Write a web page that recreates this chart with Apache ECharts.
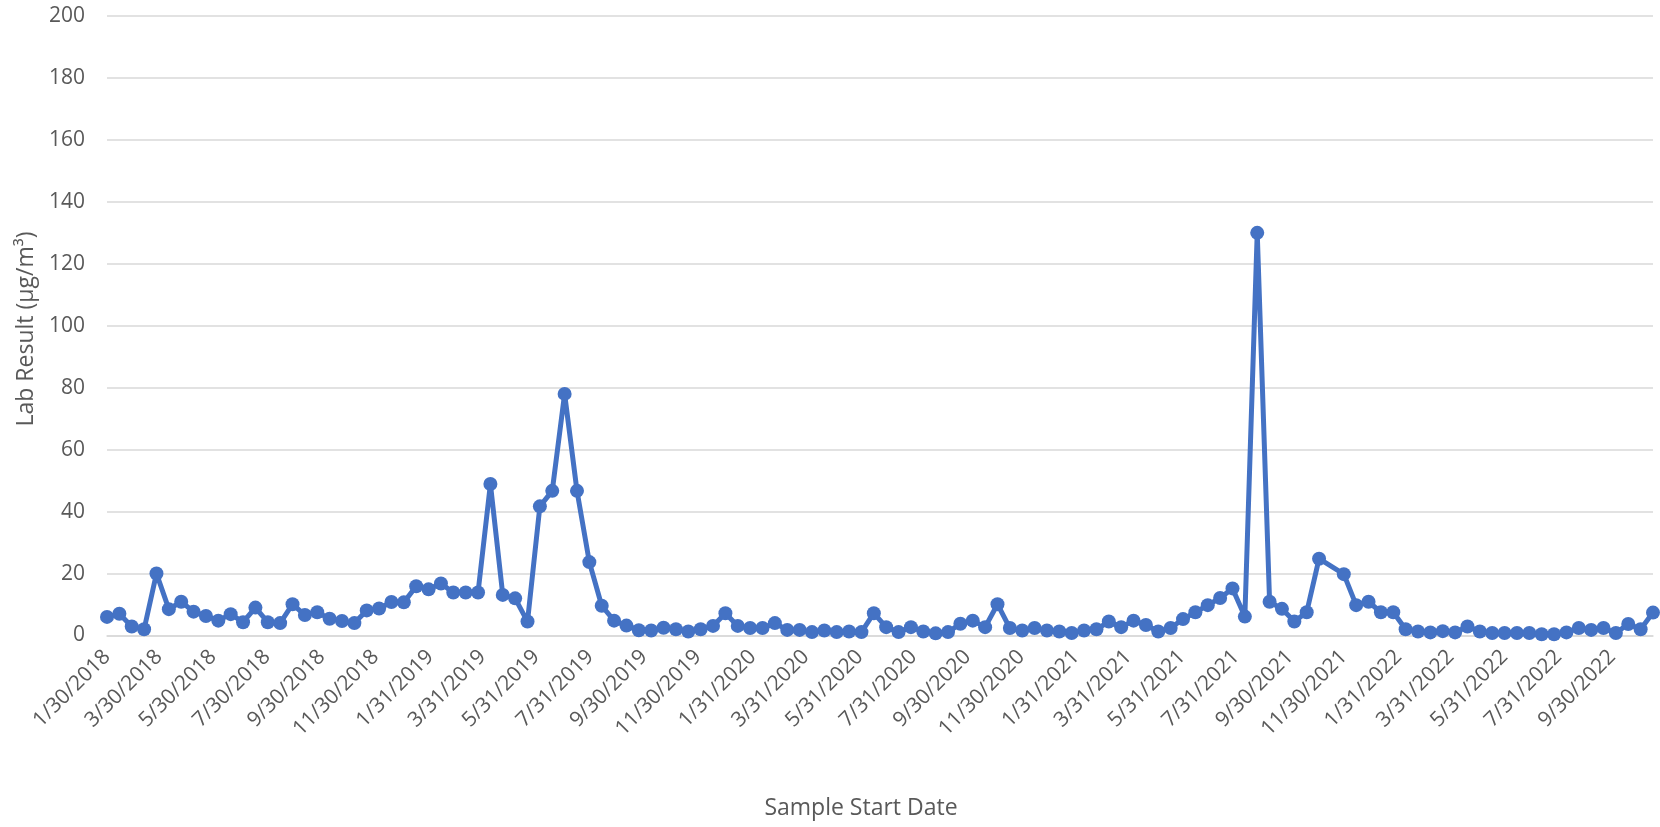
<!DOCTYPE html>
<html>
<head>
<meta charset="utf-8">
<script src="https://cdn.jsdelivr.net/npm/echarts@6/dist/echarts.min.js"></script>
<style>
  html, body { margin: 0; padding: 0; background: #ffffff; }
  #chart { width: 1660px; height: 827px; }
</style>
</head>
<body>
<div id="chart"></div>
<script>
// ---- Data ----
const sampleDates = [
  '2018-01-30','2018-02-13','2018-02-27','2018-03-13','2018-03-27','2018-04-10','2018-04-24','2018-05-08',
  '2018-05-22','2018-06-05','2018-06-19','2018-07-03','2018-07-17','2018-07-31','2018-08-14','2018-08-28',
  '2018-09-11','2018-09-25','2018-10-09','2018-10-23','2018-11-06','2018-11-20','2018-12-04','2018-12-18',
  '2019-01-01','2019-01-15','2019-01-29','2019-02-12','2019-02-26','2019-03-12','2019-03-26','2019-04-09',
  '2019-04-23','2019-05-07','2019-05-21','2019-06-04','2019-06-18','2019-07-02','2019-07-16','2019-07-30',
  '2019-08-13','2019-08-27','2019-09-10','2019-09-24','2019-10-08','2019-10-22','2019-11-05','2019-11-19',
  '2019-12-03','2019-12-17','2019-12-31',
  '2020-01-14','2020-01-28','2020-02-11','2020-02-25','2020-03-10','2020-03-24','2020-04-07','2020-04-21',
  '2020-05-05','2020-05-19','2020-06-02','2020-06-16','2020-06-30','2020-07-14','2020-07-28','2020-08-11',
  '2020-08-25','2020-09-08','2020-09-22','2020-10-06','2020-10-20','2020-11-03','2020-11-17','2020-12-01',
  '2020-12-15','2020-12-29',
  '2021-01-12','2021-01-26','2021-02-09','2021-02-23','2021-03-09','2021-03-23','2021-04-06','2021-04-20',
  '2021-05-04','2021-05-18','2021-06-01','2021-06-15','2021-06-29','2021-07-13','2021-07-27','2021-08-10',
  '2021-08-24','2021-09-07','2021-09-21','2021-10-05','2021-10-19','2021-11-02','2021-11-30','2021-12-14',
  '2021-12-28',
  '2022-01-11','2022-01-25','2022-02-08','2022-02-22','2022-03-08','2022-03-22','2022-04-05','2022-04-19',
  '2022-05-03','2022-05-17','2022-05-31','2022-06-14','2022-06-28','2022-07-12','2022-07-26','2022-08-09',
  '2022-08-23','2022-09-06','2022-09-20','2022-10-04','2022-10-18','2022-11-01','2022-11-15'
];

const labResults = [
  6.0, 7.0, 2.9, 2.0, 20.0, 8.5, 10.9, 7.7,
  6.3, 4.8, 6.9, 4.3, 9.0, 4.3, 4.0, 10.1,
  6.6, 7.5, 5.4, 4.7, 4.0, 8.1, 8.7, 10.8,
  10.7, 15.9, 14.9, 16.8, 13.9, 13.9, 13.9, 48.9,
  13.1, 12.0, 4.5, 41.7, 46.7, 78.0, 46.7, 23.7,
  9.6, 4.8, 3.2, 1.7, 1.6, 2.5, 2.0, 1.3,
  2.0, 3.1, 7.2,
  3.1, 2.4, 2.4, 4.0, 1.8, 1.8, 1.1, 1.6,
  1.1, 1.3, 1.1, 7.2, 2.7, 1.1, 2.7, 1.3,
  0.7, 1.1, 3.8, 4.8, 2.7, 10.1, 2.4, 1.6,
  2.4, 1.6,
  1.3, 0.8, 1.6, 2.0, 4.5, 2.7, 4.8, 3.4,
  1.3, 2.4, 5.3, 7.5, 9.8, 12.1, 15.2, 6.1,
  130.0, 10.9, 8.6, 4.5, 7.5, 24.8, 19.8, 9.8,
  10.9,
  7.5, 7.5, 2.0, 1.3, 1.0, 1.4, 1.0, 2.9,
  1.3, 0.8, 0.8, 0.8, 0.8, 0.4, 0.4, 1.0,
  2.4, 1.8, 2.4, 0.8, 3.7, 2.0, 7.4
];

const xTickLabels = [
  '1/30/2018','3/30/2018','5/30/2018','7/30/2018','9/30/2018','11/30/2018',
  '1/31/2019','3/31/2019','5/31/2019','7/31/2019','9/30/2019','11/30/2019',
  '1/31/2020','3/31/2020','5/31/2020','7/31/2020','9/30/2020','11/30/2020',
  '1/31/2021','3/31/2021','5/31/2021','7/31/2021','9/30/2021','11/30/2021',
  '1/31/2022','3/31/2022','5/31/2022','7/31/2022','9/30/2022'
];

const yAxisMin = 0, yAxisMax = 200, yAxisStep = 20;
const xTitle = 'Sample Start Date';
const yTitle = 'Lab Result (µg/m³)';

// ---- Helpers: dates -> day numbers (date axis measured in days) ----
const DAY = 86400000;
function isoToDay(s) {
  const p = s.split('-').map(Number);
  return Math.round(Date.UTC(p[0], p[1] - 1, p[2]) / DAY);
}
function mdyToDay(s) {
  const p = s.split('/').map(Number);
  return Math.round(Date.UTC(p[2], p[0] - 1, p[1]) / DAY);
}

const seriesData = sampleDates.map((d, i) => [isoToDay(d), labResults[i]]);
const tickDays = xTickLabels.map(mdyToDay);
const tickTextByDay = {};
tickDays.forEach((t, i) => { tickTextByDay[t] = xTickLabels[i]; });

const FONT = '"Open Sans", "Noto Sans", sans-serif';
const TEXT_COLOR = '#595959';
const GRID_COLOR = '#d9d9d9';
const BLUE = '#4472C4';

const chart = echarts.init(document.getElementById('chart'), null, { renderer: 'canvas' });

chart.setOption({
  animation: false,
  backgroundColor: '#ffffff',
  grid: { left: 107, right: 7, top: 16, bottom: 191.5, containLabel: false },
  xAxis: {
    type: 'value',
    min: isoToDay(sampleDates[0]),
    max: isoToDay(sampleDates[sampleDates.length - 1]),
    axisLine: { show: true, lineStyle: { color: GRID_COLOR, width: 1.5 } },
    axisTick: { show: false },
    splitLine: { show: false },
    axisLabel: {
      customValues: tickDays,
      rotate: 45,
      margin: 18,
      fontSize: 21,
      fontFamily: FONT,
      color: TEXT_COLOR,
      hideOverlap: false,
      formatter: function (v) {
        return tickTextByDay[Math.round(v)] !== undefined ? tickTextByDay[Math.round(v)] : '';
      }
    }
  },
  yAxis: {
    type: 'value',
    min: yAxisMin,
    max: yAxisMax,
    interval: yAxisStep,
    axisLine: { show: false },
    axisTick: { show: false },
    splitLine: { show: true, lineStyle: { color: GRID_COLOR, width: 1.5 } },
    axisLabel: {
      margin: 22,
      fontSize: 21,
      fontFamily: FONT,
      color: TEXT_COLOR
    }
  },
  graphic: [
    {
      type: 'text',
      x: 861, y: 808,
      style: {
        text: xTitle,
        fontSize: 23,
        fontFamily: FONT,
        fill: TEXT_COLOR,
        textAlign: 'center',
        textVerticalAlign: 'middle'
      }
    },
    {
      type: 'text',
      x: 26, y: 329,
      rotation: Math.PI / 2,
      style: {
        text: yTitle,
        fontSize: 23,
        fontFamily: FONT,
        fill: TEXT_COLOR,
        textAlign: 'center',
        textVerticalAlign: 'middle'
      }
    }
  ],
  series: [
    {
      type: 'line',
      data: seriesData,
      symbol: 'circle',
      symbolSize: 14,
      showAllSymbol: true,
      lineStyle: { color: BLUE, width: 5, join: 'round' },
      itemStyle: { color: BLUE },
      z: 3
    }
  ]
});
</script>
</body>
</html>
